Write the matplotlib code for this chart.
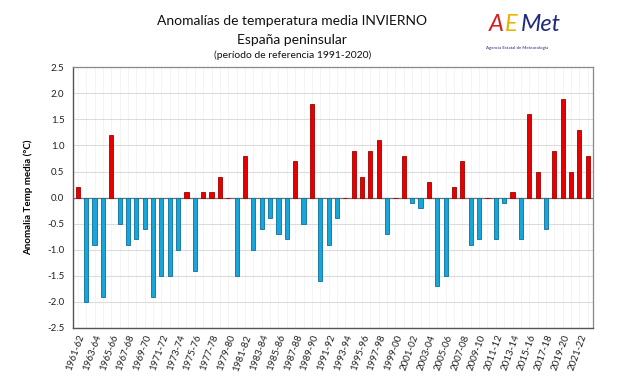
"""Anomalías de temperatura media INVIERNO, España peninsular (AEMET style bar chart)."""

import matplotlib

matplotlib.use("Agg")
import matplotlib.pyplot as plt  # noqa: E402
import numpy as np  # noqa: E402

plt.rcParams["font.family"] = ["Lato", "DejaVu Sans"]

start_years = list(range(1961, 2023))
seasons = [f"{y}-{(y + 1) % 100:02d}" for y in start_years]
anomalies = [
    0.2, -2.0, -0.9, -1.9, 1.2, -0.5, -0.9, -0.8, -0.6, -1.9,
    -1.5, -1.5, -1.0, 0.1, -1.4, 0.1, 0.1, 0.4, 0.0, -1.5,
    0.8, -1.0, -0.6, -0.4, -0.7, -0.8, 0.7, -0.5, 1.8, -1.6,
    -0.9, -0.4, 0.0, 0.9, 0.4, 0.9, 1.1, -0.7, 0.0, 0.8,
    -0.1, -0.2, 0.3, -1.7, -1.5, 0.2, 0.7, -0.9, -0.8, 0.0,
    -0.8, -0.1, 0.1, -0.8, 1.6, 0.5, -0.6, 0.9, 1.9, 0.5,
    1.3, 0.8,
]
y_ticks = [-2.5, -2.0, -1.5, -1.0, -0.5, 0.0, 0.5, 1.0, 1.5, 2.0, 2.5]

vals = np.array(anomalies)
x = np.arange(len(vals))
colors = np.where(vals >= 0, "#e60000", "#17a6dc")
edges = np.where(vals >= 0, "#a00000", "#0b6f99")

fig = plt.figure(figsize=(6.22, 3.80), dpi=100)
fig.patch.set_facecolor("white")
ax = fig.add_axes([0.117, 0.137, 0.836, 0.686])

# faint vertical grid between categories
for xi in x:
    ax.axvline(xi, color="#f2f2f2", lw=0.6, zorder=0)
ax.set_yticks(y_ticks)
ax.yaxis.grid(True, color="#dcdcdc", lw=0.8, zorder=0)
ax.set_axisbelow(True)

ax.bar(x, vals, width=0.5, color=colors, edgecolor=edges, linewidth=0.6, zorder=3)
ax.axhline(0, color="#707070", lw=0.9, zorder=2)

ax.set_ylim(-2.5, 2.5)
ax.set_xlim(-0.6, len(vals) - 0.4)
ax.set_yticklabels([f"{t:.1f}" for t in y_ticks], fontsize=7, color="#222222")
ax.set_xticks(x[::2])
ax.set_xticklabels(seasons[::2], rotation=70, ha="right", rotation_mode="anchor",
                   fontsize=7, color="#222222")
ax.tick_params(axis="both", length=0, pad=6)
ax.tick_params(axis="x", pad=4)

for side in ["left", "bottom"]:
    ax.spines[side].set_color("#555555")
    ax.spines[side].set_linewidth(1.0)
for side in ["top", "right"]:
    ax.spines[side].set_color("#888888")
    ax.spines[side].set_linewidth(0.9)

ax.set_ylabel("Anomalia Temp media (°C)", fontsize=7, fontweight="bold", labelpad=10)

fig.text(0.47, 0.945, "Anomalías de temperatura media INVIERNO", ha="center", va="center",
         fontsize=10, color="#111111")
fig.text(0.47, 0.895, "España peninsular", ha="center", va="center", fontsize=10, color="#111111")
fig.text(0.47, 0.855, "(período de referencia 1991-2020)", ha="center", va="center",
         fontsize=7.5, color="#111111")

# AEMET logo as text
fig.text(0.785, 0.935, "A", ha="left", va="center", fontsize=17, color="#d42020", style="italic")
fig.text(0.812, 0.935, "E", ha="left", va="center", fontsize=17, color="#e8b400", style="italic")
fig.text(0.838, 0.935, "Met", ha="left", va="center", fontsize=17, color="#1f2a7a", style="italic")
fig.text(0.782, 0.875, "Agencia Estatal de Meteorología", ha="left", va="center",
         fontsize=3.2, color="#1f2a7a")

fig.savefig("out.png", dpi=100, facecolor="white")
